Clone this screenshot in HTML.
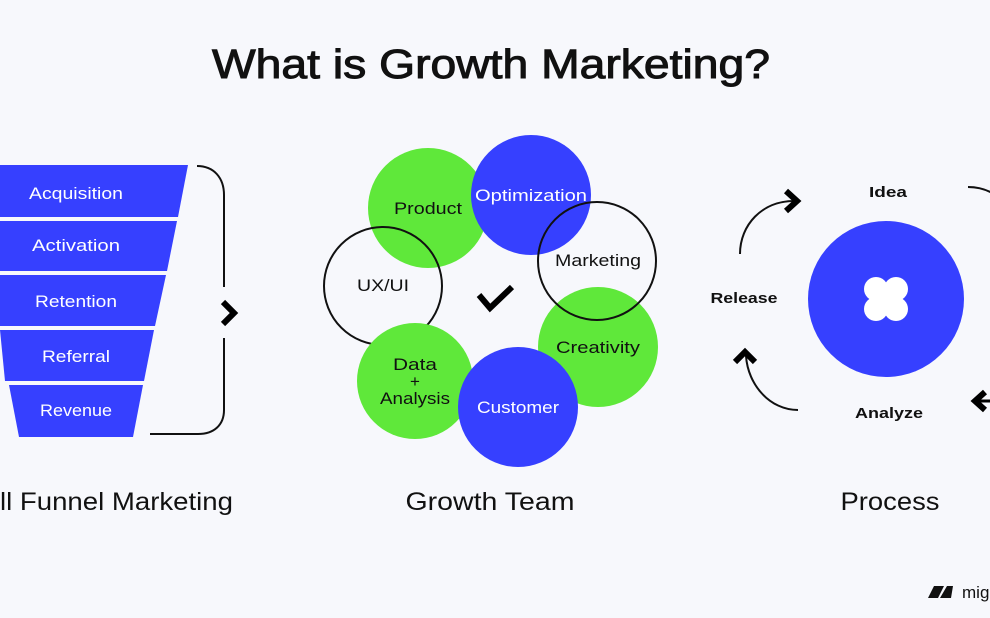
<!DOCTYPE html>
<html><head><style>
html,body{margin:0;padding:0;background:#f7f8fc;}
svg{display:block;}
text{font-family:"Liberation Sans",sans-serif;}
</style></head><body>
<svg width="990" height="618" viewBox="0 0 990 618" xmlns="http://www.w3.org/2000/svg">
<rect width="990" height="618" fill="#f7f8fc"/>
<text x="491" y="78" font-size="41" stroke="#111" stroke-width="1" text-anchor="middle" textLength="558" lengthAdjust="spacingAndGlyphs" fill="#111">What is Growth Marketing?</text>

<!-- funnel -->
<g fill="#3640ff">
<polygon points="0,165 188,165 178,217 0,217"/>
<polygon points="0,221 177,221 167,271 0,271"/>
<polygon points="0,275 166,275 155,326 0,326"/>
<polygon points="0,330 154,330 144,381 5,381"/>
<polygon points="9,385 143,385 133,437 19,437"/>
</g>
<g fill="#fff" font-size="17" text-anchor="middle">
<text x="76" y="199" textLength="94" lengthAdjust="spacingAndGlyphs">Acquisition</text>
<text x="76" y="251" textLength="88" lengthAdjust="spacingAndGlyphs">Activation</text>
<text x="76" y="307" textLength="82" lengthAdjust="spacingAndGlyphs">Retention</text>
<text x="76" y="362" textLength="68" lengthAdjust="spacingAndGlyphs">Referral</text>
<text x="76" y="416" textLength="72" lengthAdjust="spacingAndGlyphs">Revenue</text>
</g>
<path d="M197,166 C214,166 224,178 224,195 L224,287" fill="none" stroke="#111" stroke-width="2"/>
<path d="M224,338 L224,410 C224,425 214,434 198,434 L150,434" fill="none" stroke="#111" stroke-width="2"/>
<path d="M223,302 L234,313 L223,324" fill="none" stroke="#000" stroke-width="6"/>
<text x="0" y="510" font-size="25" textLength="233" lengthAdjust="spacingAndGlyphs" fill="#111">ll Funnel Marketing</text>

<!-- growth team -->
<circle cx="428" cy="208" r="60" fill="#5fe83a"/>
<circle cx="531" cy="195" r="60" fill="#3640ff"/>
<circle cx="383" cy="286" r="59" fill="none" stroke="#111" stroke-width="2"/>
<circle cx="415" cy="381" r="58" fill="#5fe83a"/>
<circle cx="598" cy="347" r="60" fill="#5fe83a"/>
<circle cx="518" cy="407" r="60" fill="#3640ff"/>
<circle cx="597" cy="261" r="59" fill="none" stroke="#111" stroke-width="2"/>
<g font-size="17" text-anchor="middle">
<text x="428" y="214" fill="#111" textLength="68" lengthAdjust="spacingAndGlyphs">Product</text>
<text x="531" y="201" fill="#fff" textLength="112" lengthAdjust="spacingAndGlyphs">Optimization</text>
<text x="598" y="266" fill="#111" textLength="86" lengthAdjust="spacingAndGlyphs">Marketing</text>
<text x="383" y="291" fill="#111" textLength="52" lengthAdjust="spacingAndGlyphs">UX/UI</text>
<text x="598" y="353" fill="#111" textLength="84" lengthAdjust="spacingAndGlyphs">Creativity</text>
<text x="415" y="370" fill="#111" textLength="44" lengthAdjust="spacingAndGlyphs">Data</text>
<text x="415" y="387" fill="#111">+</text>
<text x="415" y="404" fill="#111" textLength="70" lengthAdjust="spacingAndGlyphs">Analysis</text>
<text x="518" y="413" fill="#fff" textLength="82" lengthAdjust="spacingAndGlyphs">Customer</text>
</g>
<path d="M479,295 L490,308 L512,287" fill="none" stroke="#000" stroke-width="6"/>
<text x="490" y="510" font-size="25" text-anchor="middle" textLength="169" lengthAdjust="spacingAndGlyphs" fill="#111">Growth Team</text>

<!-- process -->
<circle cx="886" cy="299" r="78" fill="#3640ff"/>
<g fill="#fff">
<circle cx="876" cy="289" r="12"/><circle cx="896" cy="289" r="12"/>
<circle cx="876" cy="309" r="12"/><circle cx="896" cy="309" r="12"/>
<rect x="878" y="291" width="16" height="16"/>
</g>
<g font-size="15" font-weight="bold" text-anchor="middle" fill="#111">
<text x="888" y="197" textLength="38" lengthAdjust="spacingAndGlyphs">Idea</text>
<text x="744" y="303" textLength="67" lengthAdjust="spacingAndGlyphs">Release</text>
<text x="889" y="418" textLength="68" lengthAdjust="spacingAndGlyphs">Analyze</text>
</g>
<path d="M740,254 C740,225 762,201 794,201" fill="none" stroke="#111" stroke-width="2"/>
<path d="M786,191 L797,201 L786,211" fill="none" stroke="#000" stroke-width="6"/>
<path d="M798,410 C770,410 748,385 746,356" fill="none" stroke="#111" stroke-width="2"/>
<path d="M735,362 L745,352 L755,362" fill="none" stroke="#000" stroke-width="6"/>
<path d="M968,187 C978,187 985,189 992,193" fill="none" stroke="#111" stroke-width="2"/>
<path d="M985,392 L975,401 L985,410" fill="none" stroke="#000" stroke-width="6"/>
<path d="M976,401 L992,401" stroke="#000" stroke-width="3"/>
<text x="890" y="510" font-size="25" text-anchor="middle" textLength="99" lengthAdjust="spacingAndGlyphs" fill="#111">Process</text>

<!-- logo -->
<path d="M928,598 L934,586 L944,586 L938,598 Z M940,598 L947,586 L953,586 L951,598 Z" fill="#111"/>
<text x="962" y="598" font-size="17" fill="#111">mig</text>
</svg>
</body></html>
